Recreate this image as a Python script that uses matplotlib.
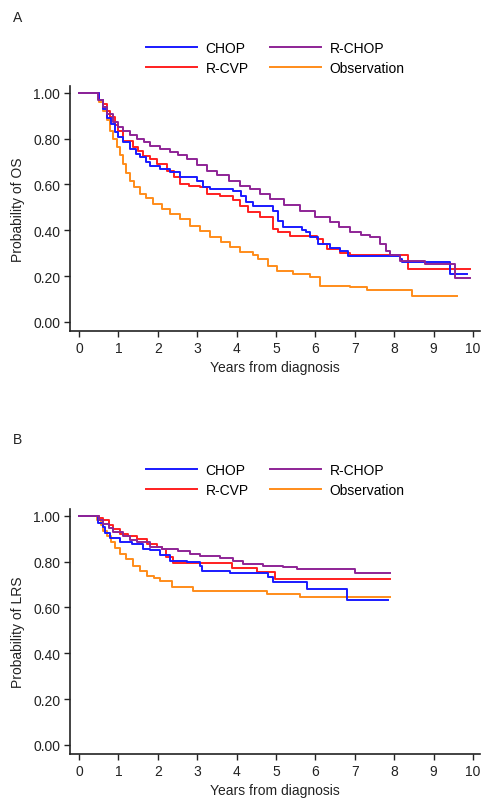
import matplotlib
matplotlib.use("Agg")
import matplotlib.pyplot as plt
import numpy as np

plt.rcParams['font.family'] = ['Liberation Sans', 'DejaVu Sans']

# --- DATA ---
groups = ["CHOP", "R-CHOP", "R-CVP", "Observation"]
colors = {"CHOP": "#1a1aff", "R-CHOP": "#8e2496", "R-CVP": "#ff1f1f", "Observation": "#ff8c1a"}
x_ticks = list(range(0, 11))
y_ticks = [0.0, 0.2, 0.4, 0.6, 0.8, 1.0]

# Panel A: overall survival (step times, survival)
os_chop_t = [0, 0.5, 0.6, 0.7, 0.8, 0.9, 1.0, 1.12, 1.29, 1.45, 1.55, 1.7, 1.8, 2.06, 2.31, 2.56, 3.0, 3.15, 3.32, 3.9, 4.1, 4.25, 4.42, 4.93, 5.05, 5.18, 5.66, 5.75, 5.86, 6.07, 6.37, 6.62, 6.83, 8.15, 8.2, 9.42, 9.85]
os_chop_s = [1.0, 0.97, 0.93, 0.89, 0.865, 0.83, 0.808, 0.786, 0.755, 0.735, 0.72, 0.70, 0.68, 0.668, 0.655, 0.633, 0.616, 0.59, 0.58, 0.57, 0.55, 0.524, 0.507, 0.485, 0.44, 0.415, 0.40, 0.393, 0.371, 0.34, 0.323, 0.31, 0.288, 0.275, 0.262, 0.21, 0.21]

os_rchop_t = [0, 0.48, 0.6, 0.71, 0.87, 1.0, 1.12, 1.3, 1.47, 1.65, 1.8, 2.05, 2.31, 2.5, 2.74, 3.0, 3.25, 3.5, 3.8, 4.09, 4.34, 4.6, 4.85, 5.2, 5.61, 6.0, 6.37, 6.6, 6.88, 7.15, 7.39, 7.64, 7.8, 7.9, 8.15, 8.78, 9.54, 9.92]
os_rchop_s = [1.0, 0.97, 0.94, 0.908, 0.873, 0.85, 0.834, 0.815, 0.80, 0.785, 0.769, 0.755, 0.742, 0.728, 0.712, 0.685, 0.66, 0.64, 0.615, 0.594, 0.581, 0.56, 0.537, 0.51, 0.485, 0.46, 0.437, 0.415, 0.393, 0.38, 0.371, 0.34, 0.31, 0.29, 0.266, 0.253, 0.19, 0.19]

os_rcvp_t = [0, 0.5, 0.61, 0.7, 0.79, 0.9, 1.0, 1.12, 1.37, 1.5, 1.62, 1.8, 1.98, 2.23, 2.4, 2.56, 2.8, 3.07, 3.25, 3.58, 3.9, 4.09, 4.3, 4.6, 4.93, 5.05, 5.36, 6.04, 6.19, 6.3, 6.62, 6.88, 8.35, 9.92]
os_rcvp_s = [1.0, 0.97, 0.95, 0.92, 0.895, 0.86, 0.834, 0.79, 0.764, 0.745, 0.725, 0.71, 0.69, 0.66, 0.633, 0.603, 0.595, 0.59, 0.559, 0.55, 0.53, 0.507, 0.48, 0.459, 0.406, 0.393, 0.376, 0.36, 0.34, 0.319, 0.30, 0.29, 0.231, 0.231]

os_obs_t = [0, 0.5, 0.61, 0.7, 0.79, 0.87, 0.96, 1.05, 1.12, 1.2, 1.29, 1.4, 1.55, 1.7, 1.88, 2.1, 2.31, 2.56, 2.82, 3.07, 3.32, 3.6, 3.83, 4.09, 4.42, 4.55, 4.8, 5.03, 5.44, 5.86, 6.12, 6.88, 7.31, 8.45, 9.6]
os_obs_s = [1.0, 0.96, 0.92, 0.88, 0.834, 0.80, 0.764, 0.73, 0.69, 0.65, 0.616, 0.59, 0.559, 0.54, 0.515, 0.495, 0.472, 0.45, 0.42, 0.395, 0.371, 0.35, 0.327, 0.305, 0.29, 0.275, 0.245, 0.223, 0.21, 0.195, 0.157, 0.15, 0.14, 0.114, 0.114]

# Panel B: lymphoma-related survival
lrs_chop_t = [0, 0.48, 0.6, 0.66, 0.79, 1.04, 1.35, 1.62, 1.8, 2.06, 2.31, 2.74, 3.07, 3.12, 3.83, 4.8, 4.93, 5.79, 6.8, 7.84]
lrs_chop_s = [1.0, 0.97, 0.95, 0.925, 0.905, 0.886, 0.878, 0.856, 0.849, 0.827, 0.805, 0.80, 0.783, 0.761, 0.75, 0.733, 0.71, 0.681, 0.633, 0.633]

lrs_rchop_t = [0, 0.5, 0.61, 0.75, 0.87, 1.12, 1.3, 1.47, 1.8, 2.1, 2.5, 2.82, 3.07, 3.58, 3.91, 4.16, 4.67, 5.18, 5.53, 7.0, 7.9]
lrs_rchop_s = [1.0, 0.98, 0.965, 0.945, 0.93, 0.913, 0.895, 0.886, 0.865, 0.856, 0.845, 0.835, 0.826, 0.817, 0.805, 0.79, 0.783, 0.777, 0.766, 0.751, 0.751]

lrs_rcvp_t = [0, 0.5, 0.61, 0.75, 0.87, 1.04, 1.25, 1.47, 1.72, 1.98, 2.1, 2.2, 2.39, 3.88, 4.52, 4.97, 7.9]
lrs_rcvp_s = [1.0, 0.99, 0.98, 0.96, 0.943, 0.921, 0.91, 0.90, 0.878, 0.865, 0.856, 0.82, 0.795, 0.771, 0.755, 0.725, 0.725]

lrs_obs_t = [0, 0.46, 0.55, 0.61, 0.7, 0.8, 0.9, 1.04, 1.2, 1.37, 1.55, 1.72, 1.9, 2.06, 2.36, 2.9, 4.77, 5.6, 7.9]
lrs_obs_s = [1.0, 0.98, 0.958, 0.935, 0.91, 0.885, 0.86, 0.834, 0.81, 0.783, 0.76, 0.739, 0.728, 0.717, 0.69, 0.674, 0.659, 0.646, 0.646]

panels = [
    ("A", "Probability of OS", {
        "CHOP": (os_chop_t, os_chop_s), "R-CHOP": (os_rchop_t, os_rchop_s),
        "R-CVP": (os_rcvp_t, os_rcvp_s), "Observation": (os_obs_t, os_obs_s)}),
    ("B", "Probability of LRS", {
        "CHOP": (lrs_chop_t, lrs_chop_s), "R-CHOP": (lrs_rchop_t, lrs_rchop_s),
        "R-CVP": (lrs_rcvp_t, lrs_rcvp_s), "Observation": (lrs_obs_t, lrs_obs_s)}),
]

W, H = 493, 812
fig = plt.figure(figsize=(W / 100, H / 100), dpi=100)

# axes boxes in pixels: (left, top spine y, right, bottom spine y)
boxes = [(70, 87, 480, 332), (70, 510, 480, 755)]
legend_tops = [42, 464]
label_pos = [(13, 18), (13, 440)]

for (tag, ylabel, curves), (l, t, r, b), leg_top, (lx, ly) in zip(panels, boxes, legend_tops, label_pos):
    ax = fig.add_axes([l / W, 1 - b / H, (r - l) / W, (b - t) / H])
    handles = {}
    # draw order: orange under the others
    for g in ["Observation", "R-CVP", "CHOP", "R-CHOP"]:
        tt, ss = curves[g]
        h, = ax.step(tt, ss, where="post", color=colors[g], lw=1.4, label=g)
        handles[g] = h

    ax.set_xlim(-0.23, 10.18)
    ax.set_ylim(-0.04, 1.03)
    ax.set_xticks(x_ticks)
    ax.set_yticks(y_ticks)
    ax.set_yticklabels([f"{v:.2f}" for v in y_ticks])
    for s in ["top", "right"]:
        ax.spines[s].set_visible(False)
    for s in ["left", "bottom"]:
        ax.spines[s].set_linewidth(1.2)
        ax.spines[s].set_color("#222222")
    ax.tick_params(axis="both", direction="out", length=4, width=1.0,
                   labelsize=10, colors="#222222", pad=3)
    ax.set_xlabel("Years from diagnosis", fontsize=10, color="#222222", labelpad=4)
    ax.set_ylabel(ylabel, fontsize=10, color="#222222")
    ax.yaxis.set_label_coords(-0.11, 0.5)

    order = ["CHOP", "R-CVP", "R-CHOP", "Observation"]
    fig.legend([handles[g] for g in order], order, ncol=2, frameon=False,
               loc="upper left", bbox_to_anchor=(146 / W, 1 - leg_top / H),
               fontsize=10, handlelength=3.7, handletextpad=0.6,
               columnspacing=1.5, labelspacing=0.45, borderpad=0, borderaxespad=0)

    fig.text(lx / W, 1 - ly / H, tag, fontsize=10, color="#222222", va="center", ha="left")

fig.savefig("out.png", dpi=100)
